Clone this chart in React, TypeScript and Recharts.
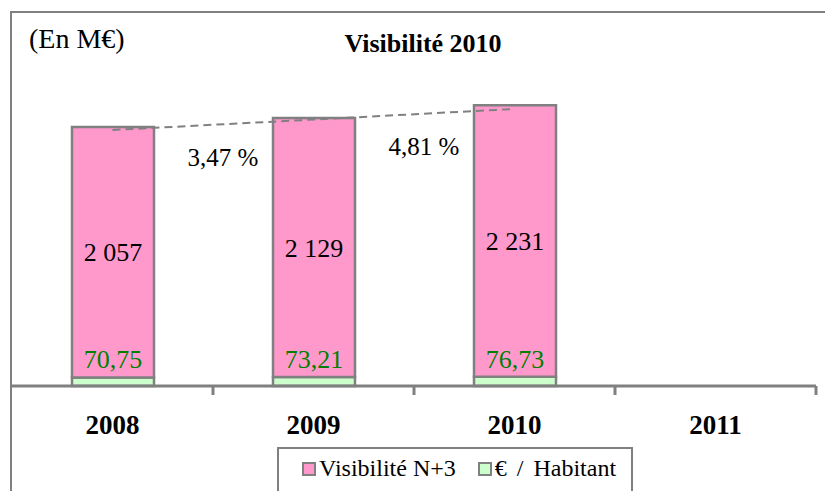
import React from 'react'
import { ComposedChart, Bar, Line, XAxis, YAxis, LabelList } from 'recharts'

const years = ['2008', '2009', '2010', '2011']
const visibilite = [2057, 2129, 2231, null]
const habitant = [70.75, 73.21, 76.73, null]
const trend = [2104, 2190, 2277, null]
const growth = [null, 3.47, 4.81, null]

const data = years.map((year, i) => ({
  year,
  visibilite: visibilite[i],
  habitant: habitant[i],
  trend: trend[i],
  growth: growth[i],
}))

const W = 825
const H = 491
const margin = { top: 21, right: 9, left: 12, bottom: 45 }
const bandWidth = (W - margin.left - margin.right) / years.length

const GREY = '#808080'
const PINK = '#FF99CC'
const GREEN = '#CCFFCC'
const FONT = 'Liberation Serif'

const fmtThousands = (v: any) =>
  v == null ? '' : String(v).replace(/\B(?=(\d{3})+(?!\d))/g, ' ')
const fmtDecimal = (v: any) => (v == null ? '' : Number(v).toFixed(2).replace('.', ','))

function YearTick(props: any) {
  const { x, y, payload } = props
  return (
    <g>
      <line x1={x + bandWidth / 2} y1={y} x2={x + bandWidth / 2} y2={y + 9} stroke={GREY} strokeWidth={3} />
      <text x={x} y={y + 48} textAnchor="middle" fontFamily={FONT} fontWeight="bold" fontSize={27} fill="#000">
        {payload.value}
      </text>
    </g>
  )
}

function GrowthLabel(props: any) {
  const { x, y, index } = props
  const g = growth[index]
  if (g == null) return null
  return (
    <text x={x - bandWidth / 2 + 10} y={y + 46} textAnchor="middle" fontFamily={FONT} fontSize={25} fill="#000">
      {`${fmtDecimal(g)} %`}
    </text>
  )
}

export default function App() {
  return (
    <div style={{ position: 'fixed', left: 0, top: 0, width: W, height: H, overflow: 'hidden', background: '#fff', fontFamily: FONT }}>
      <style>{`html, body { margin: 0; overflow: hidden; }`}</style>
      {/* frame: only top and left edges are visible in the crop */}
      <div style={{ position: 'absolute', left: 10, top: 11, width: W - 10, height: 2, background: GREY }} />
      <div style={{ position: 'absolute', left: 10, top: 11, width: 2, height: H - 11, background: GREY }} />
      <div style={{ position: 'absolute', left: 29, top: 22, fontFamily: FONT, fontSize: 28, lineHeight: '34px', color: '#000' }}>(En M€)</div>
      <div style={{ position: 'absolute', left: 273, width: 300, top: 28, textAlign: 'center', fontFamily: FONT, fontSize: 26, fontWeight: 'bold', lineHeight: '32px', color: '#000' }}>
        Visibilité 2010
      </div>
      <div style={{ position: 'absolute', left: 0, top: 0 }}>
        <ComposedChart width={W} height={H} data={data} margin={margin} barSize={82}>
          <YAxis hide domain={[0, 3000]} />
          <XAxis
            dataKey="year"
            axisLine={{ stroke: GREY, strokeWidth: 3 }}
            tickLine={false}
            tickSize={0}
            tickMargin={0}
            height={60}
            interval={0}
            tick={<YearTick />}
          />
          <Bar dataKey="habitant" stackId="a" fill={GREEN} stroke={GREY} strokeWidth={2.5} isAnimationActive={false}>
            <LabelList dataKey="habitant" position="top" offset={9} formatter={fmtDecimal} fill="#008000" fontSize={26} fontFamily={FONT} />
          </Bar>
          <Bar dataKey="visibilite" stackId="a" fill={PINK} stroke={GREY} strokeWidth={2.5} isAnimationActive={false}>
            <LabelList dataKey="visibilite" position="center" formatter={fmtThousands} fill="#000" fontSize={26} fontFamily={FONT} />
          </Bar>
          <Line
            dataKey="trend"
            stroke={GREY}
            strokeWidth={2}
            strokeDasharray="8 5"
            dot={false}
            activeDot={false}
            isAnimationActive={false}
            label={<GrowthLabel />}
          />
        </ComposedChart>
      </div>
      <div
        style={{
          position: 'absolute',
          left: 277,
          top: 447,
          width: 356,
          height: 60,
          border: `2px solid ${GREY}`,
          display: 'flex',
          alignItems: 'flex-start',
          paddingTop: 5,
          boxSizing: 'border-box',
          fontFamily: FONT,
          fontSize: 24,
          color: '#000',
          whiteSpace: 'nowrap',
        }}
      >
        <span style={{ display: 'inline-block', width: 10, height: 10, background: PINK, border: `2px solid ${GREY}`, marginLeft: 23, marginTop: 8 }} />
        <span style={{ marginLeft: 3, lineHeight: '28px' }}>Visibilité N+3</span>
        <span style={{ display: 'inline-block', width: 10, height: 10, background: GREEN, border: `2px solid ${GREY}`, marginLeft: 22, marginTop: 8 }} />
        <span style={{ marginLeft: 3, lineHeight: '28px', wordSpacing: 4 }}>€ / Habitant</span>
      </div>
    </div>
  )
}
